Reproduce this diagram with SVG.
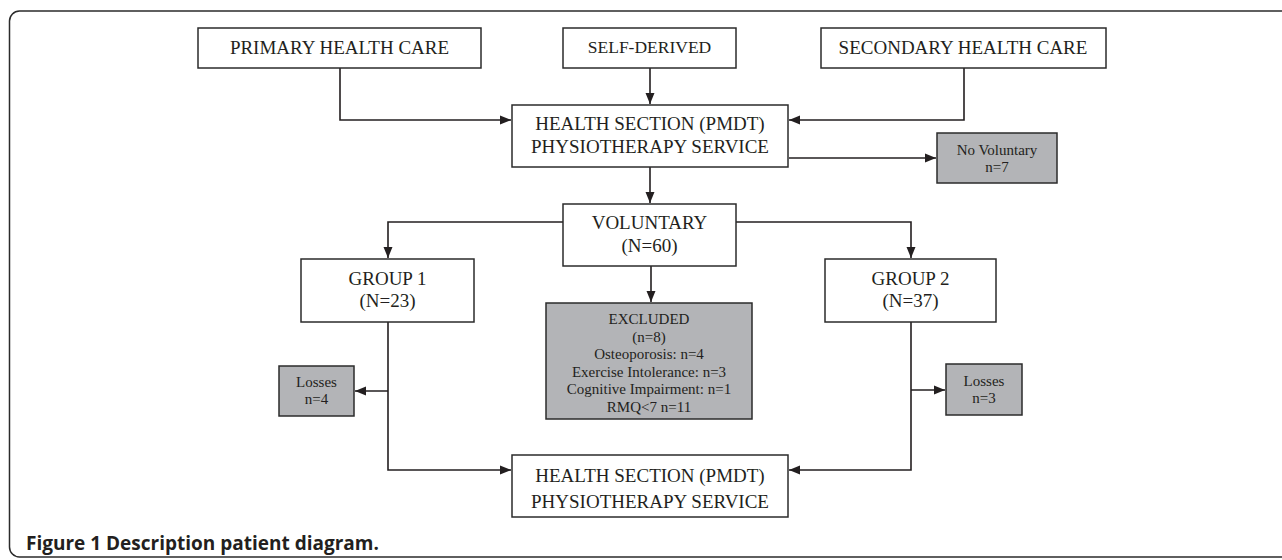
<svg xmlns="http://www.w3.org/2000/svg" width="1282" height="560" viewBox="0 0 1282 560">
<style>
.box{fill:#fff;stroke:#2b2b2b;stroke-width:1.5}
.gbox{fill:#b3b4b7;stroke:#2b2b2b;stroke-width:1.5}
.t{font-family:"Liberation Serif","Times New Roman",serif;fill:#231f20;text-anchor:middle}
.big{font-size:19px}
.sm{font-size:15px}
.ln{fill:none;stroke:#231f20;stroke-width:1.6}
.cap{font-family:"Open Sans","Liberation Sans",sans-serif;font-weight:bold;font-size:19px;fill:#231f20}
</style>
<defs>
<marker id="ah" markerUnits="userSpaceOnUse" markerWidth="12" markerHeight="12" viewBox="0 0 12 12" refX="11" refY="6" orient="auto">
<path d="M0,1.5 L11,6 L0,10.5 Z" fill="#231f20"/>
</marker>
</defs>
<rect x="9.5" y="11" width="1300" height="546" rx="10" ry="10" fill="none" stroke="#2b2b2b" stroke-width="1.5"/>
<g id="connectors">
<path class="ln" d="M340,68 V120 H511" marker-end="url(#ah)"/>
<path class="ln" d="M650,68 V104" marker-end="url(#ah)"/>
<path class="ln" d="M964,68 V120 H789" marker-end="url(#ah)"/>
<path class="ln" d="M789,158 H936" marker-end="url(#ah)"/>
<path class="ln" d="M650,167 V203" marker-end="url(#ah)"/>
<path class="ln" d="M563,222 H388 V258" marker-end="url(#ah)"/>
<path class="ln" d="M736,222 H911 V258" marker-end="url(#ah)"/>
<path class="ln" d="M651,266 V302" marker-end="url(#ah)"/>
<path class="ln" d="M388,391 H355" marker-end="url(#ah)"/>
<path class="ln" d="M911,390 H945" marker-end="url(#ah)"/>
<path class="ln" d="M388,322 V470 H511" marker-end="url(#ah)"/>
<path class="ln" d="M911,322 V470 H789" marker-end="url(#ah)"/>
</g>
<g id="primary">
<rect class="box" x="198" y="28" width="283" height="40"/>
<text class="t big" x="339.5" y="54">PRIMARY HEALTH CARE</text>
</g>
<g id="self">
<rect class="box" x="563" y="28" width="173" height="40"/>
<text class="t" style="font-size:17.5px" x="649.5" y="53">SELF-DERIVED</text>
</g>
<g id="secondary">
<rect class="box" x="821" y="28" width="285" height="40"/>
<text class="t big" x="963" y="54">SECONDARY HEALTH CARE</text>
</g>
<g id="health1">
<rect class="box" x="512" y="105" width="276" height="62"/>
<text class="t big" x="650" y="130">HEALTH SECTION (PMDT)</text>
<text class="t big" x="650" y="152.5">PHYSIOTHERAPY SERVICE</text>
</g>
<g id="novol">
<rect class="gbox" x="937" y="133" width="120" height="50"/>
<text class="t sm" x="997" y="155">No Voluntary</text>
<text class="t sm" x="997" y="172">n=7</text>
</g>
<g id="voluntary">
<rect class="box" x="563" y="204" width="173" height="62"/>
<text class="t big" x="649.5" y="229">VOLUNTARY</text>
<text class="t big" x="649.5" y="252">(N=60)</text>
</g>
<g id="group1">
<rect class="box" x="301" y="259" width="173" height="63"/>
<text class="t big" x="387.5" y="285">GROUP 1</text>
<text class="t big" x="387.5" y="307">(N=23)</text>
</g>
<g id="group2">
<rect class="box" x="825" y="259" width="171" height="63"/>
<text class="t big" x="910.5" y="285">GROUP 2</text>
<text class="t big" x="910.5" y="307">(N=37)</text>
</g>
<g id="excluded">
<rect class="gbox" x="546" y="303" width="206" height="116"/>
<text class="t sm" x="649" y="324">EXCLUDED</text>
<text class="t sm" x="649" y="341.5">(n=8)</text>
<text class="t sm" x="649" y="359">Osteoporosis: n=4</text>
<text class="t sm" x="649" y="376.5">Exercise Intolerance: n=3</text>
<text class="t sm" x="649" y="394">Cognitive Impairment: n=1</text>
<text class="t sm" x="649" y="411.5">RMQ&lt;7 n=11</text>
</g>
<g id="losses1">
<rect class="gbox" x="279" y="366" width="75" height="50"/>
<text class="t sm" x="316.5" y="386.5">Losses</text>
<text class="t sm" x="316.5" y="404">n=4</text>
</g>
<g id="losses2">
<rect class="gbox" x="946" y="364" width="76" height="51"/>
<text class="t sm" x="984" y="386">Losses</text>
<text class="t sm" x="984" y="403">n=3</text>
</g>
<g id="health2">
<rect class="box" x="512" y="455" width="276" height="62"/>
<text class="t big" x="650" y="482">HEALTH SECTION (PMDT)</text>
<text class="t big" x="650" y="508">PHYSIOTHERAPY SERVICE</text>
</g>
<text class="cap" x="26" y="550">Figure 1 <tspan>Description patient diagram.</tspan></text>
</svg>
